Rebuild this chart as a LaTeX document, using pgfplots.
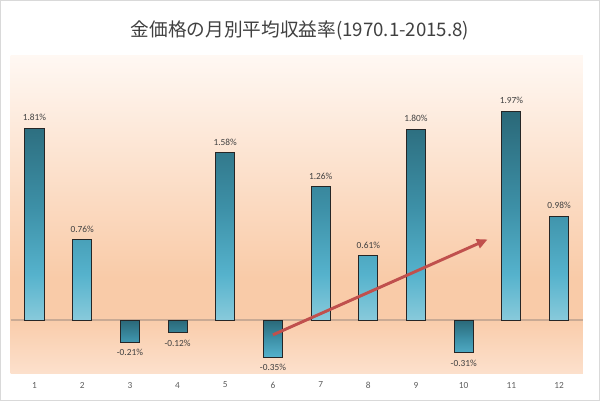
\documentclass[border=0pt]{standalone}
\usepackage{fontspec}
\setmainfont{Carlito}
\newfontfamily\jp{Noto Sans CJK JP}
\usepackage{pgfplots}
\pgfplotsset{compat=1.18}
\usetikzlibrary{arrows.meta}
\pgfkeys{/pgf/number format/assume math mode=true}
\definecolor{bgtop}{HTML}{FFF8F3}
\definecolor{bgmid}{HTML}{F9CBA8}
\definecolor{bgbot}{HTML}{FCE0CC}
\definecolor{bA}{HTML}{88CADB}
\definecolor{bB}{HTML}{55B2CC}
\definecolor{bC}{HTML}{3D90A7}
\definecolor{bD}{HTML}{2A6878}
\definecolor{zline}{HTML}{C9AA94}
\definecolor{arrowred}{HTML}{C0504D}
\definecolor{frame}{HTML}{D9D9D9}
\definecolor{txt}{HTML}{404040}
\pgfdeclareverticalshading{bgshade}{100bp}{color(0bp)=(bgbot); color(25bp)=(bgbot); color(34bp)=(bgmid); color(40bp)=(bgmid); color(75bp)=(bgtop); color(100bp)=(bgtop)}
\pgfdeclareverticalshading{barshade}{100bp}{color(0bp)=(bA); color(25bp)=(bA); color(36bp)=(bB); color(52bp)=(bC); color(75bp)=(bD); color(100bp)=(bD)}
\pgfdeclareverticalshading{negshade}{100bp}{color(0bp)=(bB); color(25bp)=(bB); color(50bp)=(bC); color(75bp)=(bD); color(100bp)=(bD)}
\pgfplotstableread{
m v
1 1.81
2 0.76
5 1.58
7 1.26
8 0.61
9 1.80
11 1.97
12 0.98
}\goldpos
\pgfplotstableread{
m v
3 -0.21
4 -0.12
6 -0.35
10 -0.31
}\goldneg
\begin{document}
\begin{tikzpicture}
\path[use as bounding box] (0,0) rectangle (450pt,300.75pt);
\draw[frame, line width=1pt] (0.5pt,0.5pt) rectangle (449.5pt,300.25pt);
\node[text=txt, font=\jp\fontsize{14}{16}\selectfont] at (225pt,278.2pt) {金価格の月別平均収益率(1970.1-2015.8)};
\begin{axis}[
  at={(8.0pt,21pt)}, anchor=south west,
  scale only axis, width=429.2pt, height=238.5pt,
  xmin=0.5, xmax=12.5, ymin=-0.5, ymax=2.5,
  axis line style={draw=none},
  axis background/.style={shading=bgshade},
  ytick=\empty,
  xtick={1,2,3,4,5,6,7,8,9,10,11,12},
  xticklabel={\pgfmathprintnumber{\tick}},
  major tick length=0pt,
  xticklabel style={font=\fontsize{7}{8}\selectfont, text=txt!85, anchor=center, yshift=-9pt},
  extra y ticks={0},
  extra y tick labels={},
  extra y tick style={grid=major, major grid style={draw=zline, line width=0.9pt}},
  clip=false,
  every axis plot/.append style={ybar, bar width=0.4, draw=black!85, line width=0.75pt,
    nodes near coords={\pgfmathprintnumber[fixed,fixed zerofill,precision=2]{\pgfplotspointmeta}\%},
    nodes near coords style={font=\fontsize{7}{8}\selectfont, text=txt, inner ysep=5pt}},
]
\addplot[shading=barshade] table[x=m, y=v] {\goldpos};
\addplot[shading=negshade] table[x=m, y=v] {\goldneg};
\draw[arrowred, line width=2.2pt, -{Triangle[length=8pt,width=7pt]}] (axis cs:6,-0.14) -- (axis cs:10.5,0.76);
\end{axis}
\end{tikzpicture}
\end{document}
